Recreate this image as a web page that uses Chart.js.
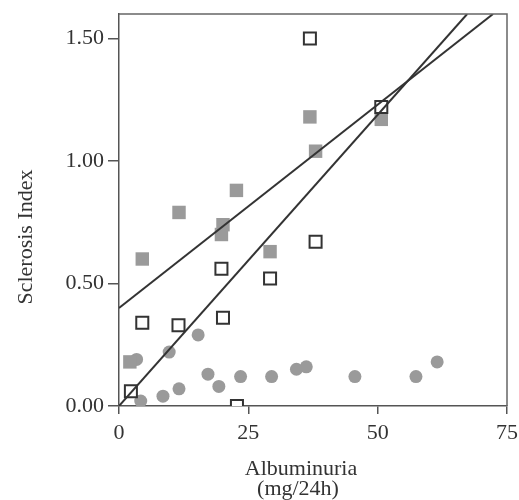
<!DOCTYPE html>
<html>
<head>
<meta charset="utf-8">
<script src="https://cdn.jsdelivr.net/npm/chart.js@4"></script>
<style>
  body { margin: 0; background: #fff; }
</style>
</head>
<body>
<canvas id="grafikon" width="519" height="500"></canvas>
<script>
// tick values
const xTicks = [0, 25, 50, 75];
const yTicks = [0, 0.5, 1.0, 1.5];

// filled gray squares
const filledX = [2.1, 4.5, 11.6, 20.1, 19.8, 22.7, 29.2, 36.9, 38.0, 50.7];
const filledY = [0.18, 0.60, 0.79, 0.74, 0.70, 0.88, 0.63, 1.18, 1.04, 1.17];

// open squares
const openX = [2.3, 4.5, 11.5, 19.8, 20.1, 22.8, 29.2, 36.9, 38.0, 50.7];
const openY = [0.06, 0.34, 0.33, 0.56, 0.36, 0.00, 0.52, 1.50, 0.67, 1.22];

// gray circles
const circleX = [3.4, 4.2, 8.5, 9.7, 11.6, 15.3, 17.2, 19.3, 23.5, 29.5, 34.3, 36.2, 45.6, 57.4, 61.5];
const circleY = [0.19, 0.02, 0.04, 0.22, 0.07, 0.29, 0.13, 0.08, 0.12, 0.12, 0.15, 0.16, 0.12, 0.12, 0.18];

// regression lines (end points)
const fitFilledX = [0, 72.3];
const fitFilledY = [0.40, 1.60];
const fitOpenX = [0, 67.3];
const fitOpenY = [0.00, 1.60];

// axis titles
const xTitle = ['Albuminuria', '(mg/24h)'];
const yTitle = 'Sclerosis Index';

const toPoints = (xs, ys) => xs.map((x, i) => ({ x: x, y: ys[i] }));

const fontFamily = "'Liberation Serif', 'DejaVu Serif', serif";
const font = { family: fontFamily, size: 22 };
const axisColor = '#555';
const textColor = '#333';

// top and right frame, axis titles
const okvir = {
    id: 'okvir',
    afterDraw(chart) {
        const { ctx, chartArea: a } = chart;
        ctx.save();
        ctx.strokeStyle = '#666';
        ctx.lineWidth = 1.5;
        ctx.beginPath();
        ctx.moveTo(a.left, a.top);
        ctx.lineTo(a.right, a.top);
        ctx.lineTo(a.right, a.bottom);
        ctx.stroke();

        ctx.fillStyle = textColor;
        ctx.font = '22px ' + fontFamily;
        ctx.textAlign = 'center';
        ctx.textBaseline = 'alphabetic';
        ctx.fillText(xTitle[0], 301, 475);
        ctx.fillText(xTitle[1], 298, 495);

        ctx.translate(32, 237);
        ctx.rotate(-Math.PI / 2);
        ctx.fillText(yTitle, 0, 0);
        ctx.restore();
    }
};

new Chart(document.getElementById('grafikon').getContext('2d'), {
    type: 'scatter',
    data: {
        datasets: [
            {
                data: toPoints(fitFilledX, fitFilledY),
                showLine: true,
                borderColor: '#333',
                borderWidth: 2,
                pointRadius: 0,
                order: 0
            },
            {
                data: toPoints(fitOpenX, fitOpenY),
                showLine: true,
                borderColor: '#333',
                borderWidth: 2,
                pointRadius: 0,
                order: 0
            },
            {
                data: toPoints(filledX, filledY),
                pointStyle: 'rect',
                pointRadius: 9.5,
                backgroundColor: '#9a9a9a',
                borderWidth: 0,
                order: 2
            },
            {
                data: toPoints(circleX, circleY),
                pointStyle: 'circle',
                pointRadius: 6.5,
                backgroundColor: '#9a9a9a',
                borderWidth: 0,
                order: 3
            },
            {
                data: toPoints(openX, openY),
                pointStyle: 'rect',
                pointRadius: 8.5,
                backgroundColor: '#fff',
                borderColor: '#333',
                borderWidth: 2,
                order: 1
            }
        ]
    },
    options: {
        responsive: false,
        animation: false,
        layout: { padding: { top: 14, right: 12, left: 0, bottom: 0 } },
        plugins: {
            legend: { display: false },
            tooltip: { enabled: false }
        },
        scales: {
            x: {
                type: 'linear',
                min: 0,
                max: 75,
                afterBuildTicks: s => { s.ticks = xTicks.map(v => ({ value: v })); },
                afterFit: s => { s.height = 94; s.paddingLeft = 0; s.paddingRight = 0; },
                grid: { drawOnChartArea: false, tickLength: 8, color: axisColor, lineWidth: 1.5 },
                border: { display: true, color: axisColor, width: 1.5 },
                ticks: { font: font, color: textColor, padding: 6, maxRotation: 0 }
            },
            y: {
                type: 'linear',
                min: 0,
                max: 1.6,
                afterBuildTicks: s => { s.ticks = yTicks.map(v => ({ value: v })); },
                afterFit: s => { s.width = 119; s.paddingTop = 0; s.paddingBottom = 0; },
                grid: { drawOnChartArea: false, tickLength: 11, color: axisColor, lineWidth: 1.5 },
                border: { display: true, color: axisColor, width: 1.5 },
                ticks: { font: font, color: textColor, padding: 4, callback: v => v.toFixed(2) }
            }
        }
    },
    plugins: [okvir]
});
</script>
</body>
</html>
